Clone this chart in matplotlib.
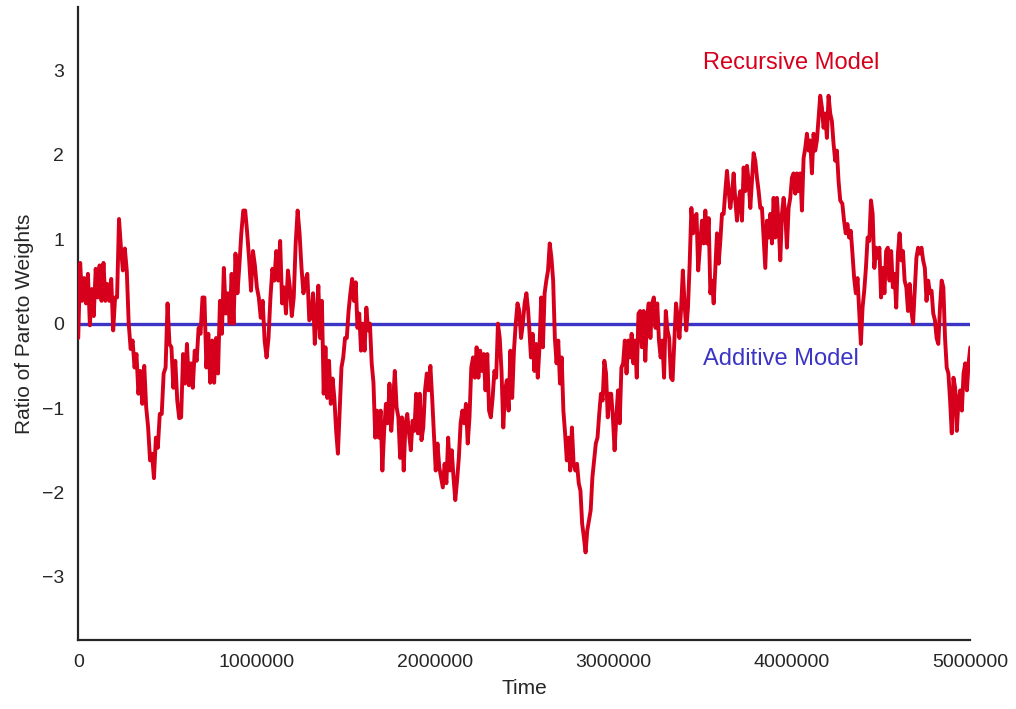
import numpy as np
import matplotlib
matplotlib.use('Agg')
import matplotlib.pyplot as plt
import seaborn as sns

# ratio of pareto weights;
# each piece is sampled evenly between its start and end time
seg_times = [(0, 1.295e6), (1.306e6, 2.522e6), (2.528e6, 3.475e6),
             (3.487e6, 4.271e6), (4.283e6, 5.0e6)]

seg1 = [-0.17, 0.72, 0.27, 0.54, 0.24, 0.59, -0.02, 0.41, 0.09, 0.65, 0.31, 0.69, 0.27, 0.72,
        0.27, 0.47, 0.27, 0.53, -0.08, 0.31, 0.31, 1.24, 0.90, 0.63, 0.89, 0.63, 0.00, -0.30,
        -0.20, -0.52, -0.36, -0.83, -0.56, -0.95, -0.50, -0.99, -1.23, -1.62, -1.54, -1.83,
        -1.35, -1.47, -1.07, -1.07, -0.59, -0.52, 0.24, -0.24, -0.28, -0.76, -0.44, -0.91,
        -1.12, -1.11, -0.36, -0.71, -0.24, -0.73, -0.47, -0.76, -0.32, -0.44, -0.05, -0.12,
        0.31, 0.31, -0.52, -0.12, -0.70, -0.20, -0.70, -0.17, -0.59, 0.27, -0.12, 0.66, 0.12,
        0.36, 0.00, 0.59, 0.00, 0.83, 0.36, 0.69, 1.07, 1.34, 1.34, 1.08, 0.77, 0.39, 0.86,
        0.69, 0.43, 0.31, 0.07, 0.27, -0.20, -0.40, -0.17, 0.31, 0.65, 0.51, 0.86, 0.51, 0.98,
        0.24, 0.43, 0.12, 0.63, 0.43, 0.09, 0.31, 0.95, 1.34, 1.07, 0.66, 0.36, 0.51, 0.59, 0.04]

seg2 = [0.07, 0.36, -0.24, 0.07, 0.45, -0.17, 0.27, -0.83, -0.28, -0.88, -0.44, -0.95, -0.65,
        -0.88, -1.27, -1.54, -1.03, -0.52, -0.40, -0.17, -0.17, 0.15, 0.36, 0.53, 0.27, 0.49,
        -0.05, 0.12, -0.32, 0.00, -0.32, 0.19, -0.08, 0.00, -0.47, -0.70, -1.35, -1.03, -1.35,
        -1.03, -1.74, -1.27, -0.95, -1.18, -0.71, -1.27, -0.95, -0.56, -0.99, -1.11, -1.59,
        -1.11, -1.74, -1.18, -1.07, -1.30, -1.50, -1.15, -1.27, -0.83, -1.30, -0.83, -1.38,
        -1.23, -0.79, -0.59, -0.79, -0.50, -0.88, -1.30, -1.74, -1.42, -1.70, -1.82, -1.94,
        -1.66, -1.89, -1.35, -1.74, -1.50, -1.82, -2.09, -1.86, -1.59, -1.18, -1.03, -1.18,
        -0.95, -1.42, -1.11, -0.52, -0.40, -0.64, -0.28, -0.64, -0.32, -0.56, -0.36, -0.79,
        -0.36, -1.03, -1.11, -0.88, -0.56, -0.64, 0.00, -0.17, -0.56, -1.23, -0.79, -0.67,
        -1.03, -0.32, -0.88, -0.32, 0.00, 0.24, 0.15, -0.17, 0.00, 0.24, 0.36, 0.15]

seg3 = [-0.05, -0.40, -0.12, -0.56, -0.24, -0.64, -0.28, 0.31, -0.28, 0.36, 0.51, 0.63, 0.95,
        0.78, 0.51, -0.17, -0.47, -0.20, -0.71, -0.40, -1.03, -1.30, -1.62, -1.35, -1.74,
        -1.23, -1.66, -1.74, -1.66, -1.89, -1.98, -2.37, -2.53, -2.71, -2.45, -2.33, -2.21,
        -1.82, -1.62, -1.42, -1.35, -1.07, -0.83, -0.91, -0.44, -0.59, -1.11, -0.83, -0.83,
        -1.11, -1.50, -1.11, -0.79, -1.18, -0.52, -0.47, -0.20, -0.59, -0.20, -0.40, -0.12,
        -0.47, -0.20, -0.64, 0.12, 0.15, -0.28, 0.15, -0.44, 0.07, 0.24, -0.17, 0.24, 0.31,
        -0.05, 0.24, -0.20, -0.40, -0.20, -0.64, 0.15, -0.08, -0.17, -0.64, -0.67, -0.20,
        0.24, 0.07, -0.17, 0.19, 0.63, 0.24, -0.08, 0.19, 0.71, 1.37, 1.07, 1.25, 1.30, 0.63]

seg4 = [0.98, 1.22, 0.95, 1.34, 0.95, 1.25, 0.36, 0.51, 0.24, 0.66, 1.07, 0.71, 0.98, 1.30,
        1.30, 1.57, 1.81, 1.57, 1.37, 1.54, 1.78, 1.46, 1.22, 1.46, 1.57, 1.22, 1.85, 1.57,
        1.87, 1.69, 1.37, 1.69, 2.02, 1.93, 1.73, 1.57, 1.37, 1.37, 1.02, 0.66, 1.22, 1.02,
        1.30, 0.95, 1.49, 1.02, 1.49, 1.18, 0.75, 1.30, 1.49, 1.30, 0.90, 1.37, 1.49, 1.73,
        1.78, 1.54, 1.78, 1.57, 1.78, 1.34, 1.96, 2.08, 2.25, 2.05, 2.17, 1.78, 2.25, 2.05,
        2.17, 2.44, 2.70, 2.56, 2.32, 2.49, 2.20, 2.70, 2.49, 2.40, 2.13, 1.93, 2.05, 1.69, 1.46]

seg5 = [1.42, 1.22, 1.07, 1.18, 1.02, 1.10, 0.83, 0.54, 0.36, 0.54, 0.15, -0.24, 0.19, 0.39,
        0.66, 1.02, 0.98, 1.46, 1.30, 0.66, 0.90, 0.78, 0.90, 0.31, 0.66, 0.36, 0.86, 0.90,
        0.51, 0.86, 0.43, 0.59, 0.19, 0.83, 1.07, 0.75, 0.86, 0.51, 0.43, 0.15, 0.47, 0.15,
        0.00, 0.39, 0.78, 0.90, 0.83, 0.90, 0.75, 0.66, 0.27, 0.51, 0.36, 0.39, 0.12, 0.04,
        -0.17, -0.24, 0.19, 0.51, 0.43, -0.17, -0.52, -0.59, -0.91, -1.30, -0.64, -0.76,
        -1.27, -0.91, -0.79, -1.03, -0.59, -0.47, -0.79, -0.47, -0.28]

segments = [seg1, seg2, seg3, seg4, seg5]
additive_level = 0.0

red = '#d6001c'
blue = '#3b34c4'

sns.set_style('white')
plt.rcParams['font.family'] = ['Liberation Sans', 'DejaVu Sans']

fig, ax = plt.subplots(figsize=(10.16, 7.09), dpi=100)

t = np.concatenate([np.linspace(a, b, len(s)) for (a, b), s in zip(seg_times, segments)])
ratio = np.concatenate(segments)

ax.plot(t, ratio, color=red, lw=2.8, zorder=3)
ax.axhline(additive_level, color=blue, lw=2.4, zorder=2)

ax.text(3.5e6, 3.09, 'Recursive Model', color=red, fontsize=17, va='center')
ax.text(3.5e6, -0.42, 'Additive Model', color=blue, fontsize=17, va='center')

ax.set_xlim(0, 5e6)
ax.set_ylim(-3.75, 3.75)
ax.set_xticks([0, 1e6, 2e6, 3e6, 4e6, 5e6])
ax.set_xticklabels(['0', '1000000', '2000000', '3000000', '4000000', '5000000'])
ax.set_yticks([-3, -2, -1, 0, 1, 2, 3])
ax.set_yticklabels(['\u22123', '\u22122', '\u22121', '0', '1', '2', '3'])
ax.tick_params(labelsize=14, colors='#262626', length=0, pad=10)
ax.set_xlabel('Time', fontsize=15, color='#262626', labelpad=6)
ax.set_ylabel('Ratio of Pareto Weights', fontsize=15, color='#262626', labelpad=6)

for side in ['top', 'right']:
    ax.spines[side].set_visible(False)
for side in ['left', 'bottom']:
    ax.spines[side].set_color('#262626')
    ax.spines[side].set_linewidth(1.6)

fig.subplots_adjust(left=0.077, right=0.955, top=0.99, bottom=0.097)
fig.savefig('out.png', dpi=100)
